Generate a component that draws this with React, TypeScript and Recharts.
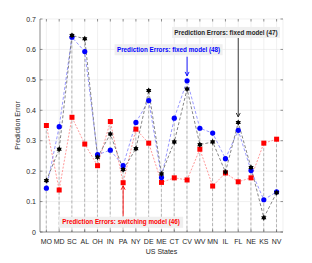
import { Bar, CartesianGrid, ComposedChart, Label, Line, ReferenceDot, ReferenceLine, XAxis, YAxis } from "recharts";

const states = ["MO", "MD", "SC", "AL", "OH", "IN", "PA", "NY", "DE", "ME", "CT", "CV", "WV", "MN", "IL", "FL", "NE", "KS", "NV"];
const switching46 = [0.35, 0.138, 0.377, 0.289, 0.218, 0.363, 0.162, 0.338, 0.292, 0.163, 0.178, 0.171, 0.272, 0.151, 0.194, 0.165, 0.178, 0.292, 0.305];
const fixed48 = [0.144, 0.346, 0.64, 0.593, 0.254, 0.269, 0.218, 0.36, 0.432, 0.179, 0.374, 0.497, 0.341, 0.325, 0.241, 0.334, 0.202, 0.106, 0.132];
const fixed47 = [0.169, 0.272, 0.646, 0.635, 0.246, 0.322, 0.205, 0.274, 0.465, 0.191, 0.296, 0.47, 0.287, 0.296, 0.197, 0.36, 0.212, 0.047, 0.129];
const yTicks = [0, 0.1, 0.2, 0.3, 0.4, 0.5, 0.6, 0.7];

const data = states.map((s, i) => ({
  state: s,
  sw: switching46[i],
  f48: fixed48[i],
  f47: fixed47[i],
  stem: Math.max(switching46[i], fixed48[i], fixed47[i]),
}));

const W = 312;
const H = 263;
const LEFT = 40;
const RIGHT = 283;
const TOP = 19;
const BOTTOM = 232;
const FONT = "'Liberation Sans', Arial, sans-serif";
const AXIS = "#4d4d4d";

function Stem(p: any) {
  const cx = p.x + p.width / 2;
  return <line x1={cx} x2={cx} y1={p.y} y2={p.y + p.height} stroke="#a6a6a6" strokeWidth={0.8} strokeDasharray="3 2" />;
}

function Circle(p: any) {
  return <circle key={p.index} cx={p.cx} cy={p.cy} r={2.6} fill="#0000ff" />;
}

function Square(p: any) {
  return <rect key={p.index} x={p.cx - 2.5} y={p.cy - 2.5} width={5} height={5} fill="#ff0000" />;
}

// hexagram-ish marker
function Star(p: any) {
  const pts: string[] = [];
  for (let k = 0; k < 12; k++) {
    const a = (Math.PI / 6) * k - Math.PI / 2;
    const r = k % 2 === 0 ? 3 : 1.8;
    pts.push(`${p.cx + r * Math.cos(a)},${p.cy + r * Math.sin(a)}`);
  }
  return <polygon key={p.index} points={pts.join(" ")} fill="#000" />;
}

function YTick(p: any) {
  const v = p.payload.value;
  return (
    <g>
      <line x1={LEFT} x2={LEFT + 2.5} y1={p.y} y2={p.y} stroke={AXIS} strokeWidth={0.6} />
      <line x1={RIGHT} x2={RIGHT - 2.5} y1={p.y} y2={p.y} stroke={AXIS} strokeWidth={0.6} />
      <text x={p.x} y={p.y} dy={2.5} textAnchor="end" fontSize={7} fill="#262626" fontFamily={FONT}>
        {v === 0 ? "0" : v.toFixed(1)}
      </text>
    </g>
  );
}

function XTick(p: any) {
  return (
    <g>
      <line x1={p.x} x2={p.x} y1={BOTTOM} y2={BOTTOM - 2.5} stroke={AXIS} strokeWidth={0.6} />
      <line x1={p.x} x2={p.x} y1={TOP} y2={TOP + 2.5} stroke={AXIS} strokeWidth={0.6} />
      <text x={p.x} y={BOTTOM + 11.5} textAnchor="middle" fontSize={7} fill="#262626" fontFamily={FONT}>
        {p.payload.value}
      </text>
    </g>
  );
}

function note(text: string, color: string, w: number, dx = 0) {
  return (p: any) => (
    <g>
      <rect x={p.cx + dx - w / 2} y={p.cy - 5.5} width={w} height={11} fill="#efefef" />
      <text x={p.cx + dx} y={p.cy} dy={2.2} textAnchor="middle" fontSize={6.3} fontWeight="bold" fill={color} fontFamily={FONT}>
        {text}
      </text>
    </g>
  );
}

function arrow(color: string) {
  return (p: any) => {
    const x = p.x1;
    const up = p.y2 < p.y1;
    const tip = p.y2;
    const base = up ? tip + 4 : tip - 4;
    return (
      <g>
        <line x1={x} x2={x} y1={p.y1} y2={tip} stroke={color} strokeWidth={0.9} />
        <polyline points={`${x - 2},${base} ${x},${tip} ${x + 2},${base}`} fill="none" stroke={color} strokeWidth={0.9} />
      </g>
    );
  };
}

export default function App() {
  return (
    <div style={{ position: "absolute", left: 0, top: 0, width: W, height: H, background: "#fff" }}>
      <ComposedChart width={W} height={H} data={data} margin={{ top: TOP, right: W - RIGHT, bottom: 0, left: 0 }}>
        <CartesianGrid stroke="#e6e6e6" strokeWidth={0.6} />
        <XAxis dataKey="state" height={H - BOTTOM} interval={0} tick={<XTick />} tickLine={false} axisLine={{ stroke: AXIS, strokeWidth: 0.6 }}>
          <Label value="US States" position="insideBottom" offset={9} fontSize={7} fill="#262626" fontFamily={FONT} />
        </XAxis>
        <XAxis xAxisId="top" dataKey="state" orientation="top" height={0} tick={false} tickLine={false} axisLine={{ stroke: AXIS, strokeWidth: 0.6 }}>
          <Label
            content={() => (
              <text x={(LEFT + RIGHT) / 2} y={14} dy={2.5} textAnchor="middle" fontSize={7.2} fontWeight="bold" fill="#000" fontFamily={FONT}>
                (i) Prediction: 107th Congress to 116th Congress
              </text>
            )}
          />
        </XAxis>
        <YAxis width={LEFT} domain={[0, 0.7]} ticks={yTicks} tick={<YTick />} tickLine={false} tickSize={0} tickMargin={4} axisLine={{ stroke: AXIS, strokeWidth: 0.6 }}>
          <Label
            content={() => (
              <text x={17} y={(TOP + BOTTOM) / 2} dy={2.5} transform={`rotate(-90,17,${(TOP + BOTTOM) / 2})`} textAnchor="middle" fontSize={7} fill="#262626" fontFamily={FONT}>
                Prediction Error
              </text>
            )}
          />
        </YAxis>
        <YAxis yAxisId="right" orientation="right" width={0} domain={[0, 0.7]} tick={false} tickLine={false} axisLine={{ stroke: AXIS, strokeWidth: 0.6 }} />
        <Bar dataKey="stem" shape={<Stem />} isAnimationActive={false} />
        <Line dataKey="sw" stroke="#ff8080" strokeWidth={0.8} strokeDasharray="2 1.5" dot={Square} activeDot={false} isAnimationActive={false} />
        <Line dataKey="f48" stroke="#7f7fff" strokeWidth={0.8} strokeDasharray="3 2" dot={Circle} activeDot={false} isAnimationActive={false} />
        <Line dataKey="f47" stroke="#666666" strokeWidth={0.8} strokeDasharray="3 2" dot={Star} activeDot={false} isAnimationActive={false} />
        <ReferenceLine segment={[{ x: "FL", y: 0.638 }, { x: "FL", y: 0.378 }]} shape={arrow("#262626")} />
        <ReferenceLine segment={[{ x: "CV", y: 0.576 }, { x: "CV", y: 0.513 }]} shape={arrow("#0000ff")} />
        <ReferenceLine segment={[{ x: "PA", y: 0.053 }, { x: "PA", y: 0.152 }]} shape={arrow("#ff0000")} />
        <ReferenceDot x="IL" y={0.656} r={0} shape={note("Prediction Errors: fixed model (47)", "#262626", 108, 0.5)} />
        <ReferenceDot x="CT" y={0.599} r={0} shape={note("Prediction Errors: fixed model (48)", "#0000ff", 108, -5.7)} />
        <ReferenceDot x="PA" y={0.032} r={0} shape={note("Prediction Errors: switching model (46)", "#ff0000", 124, -2)} />
      </ComposedChart>
    </div>
  );
}
